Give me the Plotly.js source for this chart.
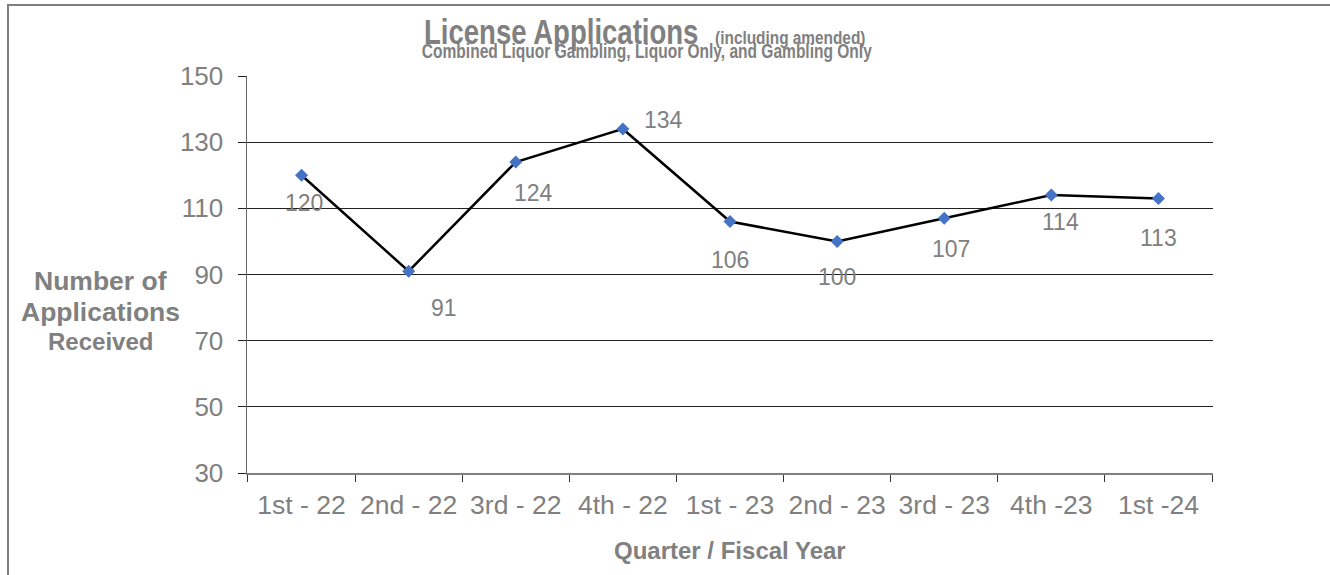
<!DOCTYPE html>
<html>
<head>
<meta charset="utf-8">
<script src="https://cdn.plot.ly/plotly-3.0.1.min.js"></script>
<style>
  html, body { margin: 0; padding: 0; background: #fff; overflow: hidden; }
  #chart { position: absolute; left: 0; top: 0; width: 1330px; height: 575px; }
  #frame { position: absolute; left: 7px; top: 4px; width: 1340px; height: 600px;
           border-left: 2px solid #7f7f7f; border-top: 2px solid #7f7f7f; pointer-events: none; }
</style>
</head>
<body>
<div id="chart"></div>
<div id="frame"></div>
<script>
// ---- data ----
const quarters = ["1st - 22", "2nd - 22", "3rd - 22", "4th - 22", "1st - 23", "2nd - 23", "3rd - 23", "4th -23", "1st -24"];
const applications = [120, 91, 124, 134, 106, 100, 107, 114, 113];
const yTicks = [30, 50, 70, 90, 110, 130, 150];
const yTitleLines = ["Number of", "Applications", "Received"];

// ---- label placement (pixel offsets of each value label from its point) ----
const labelDx = [2, 35, 18, 41, 0, 0, 7, 9, 0];
const labelDy = [28, 37, 31, -9, 38, 36, 31, 27, 40];

const W = 1330, H = 575;
const L = 247, R = 1213, T = 76, B = 473;
const px2x = p => (p - L) / (R - L);
const px2y = p => (B - p) / (B - T);

const gray = '#808080';
const sans = '"Liberation Sans", Arial, sans-serif';

const trace = {
  type: 'scatter',
  mode: 'lines+markers',
  x: quarters,
  y: applications,
  line: { color: '#000000', width: 2.5 },
  marker: { symbol: 'diamond', size: 10, color: '#4472C4' },
  hoverinfo: 'x+y',
  cliponaxis: false
};

const annotations = [];
applications.forEach((v, i) => {
  annotations.push({
    x: quarters[i], y: v, xref: 'x', yref: 'y',
    text: String(v), showarrow: false,
    xanchor: 'center', yanchor: 'middle',
    xshift: labelDx[i], yshift: -labelDy[i],
    font: { family: sans, size: 23, color: gray }
  });
});

// title pieces (narrow look obtained by horizontal scaling after render)
const narrowScale = {};
narrowScale[annotations.length] = { sx: 0.765, origin: 'left center' };
annotations.push({
  xref: 'paper', yref: 'paper', x: px2x(422), y: px2y(31),
  xanchor: 'left', yanchor: 'middle', showarrow: false,
  text: '<b>License Applications</b>',
  font: { family: sans, size: 36, color: gray }
});
narrowScale[annotations.length] = { sx: 0.81, origin: 'left center' };
annotations.push({
  xref: 'paper', yref: 'paper', x: px2x(713), y: px2y(38),
  xanchor: 'left', yanchor: 'middle', showarrow: false,
  text: '<b>(including amended)</b>',
  font: { family: sans, size: 19, color: gray }
});
narrowScale[annotations.length] = { sx: 0.777, origin: 'center center' };
annotations.push({
  xref: 'paper', yref: 'paper', x: px2x(647), y: px2y(51),
  xanchor: 'center', yanchor: 'middle', showarrow: false,
  text: '<b>Combined Liquor Gambling, Liquor Only, and Gambling Only</b>',
  font: { family: sans, size: 20, color: gray }
});

// y-axis title, one annotation per line (tight line spacing)
const yTitleCenters = [281, 312, 341];
const yTitleSizes = [26.5, 26.5, 24];
yTitleLines.forEach((s, i) => {
  annotations.push({
    xref: 'paper', yref: 'paper', x: px2x(100), y: px2y(yTitleCenters[i]),
    xanchor: 'center', yanchor: 'middle', showarrow: false,
    text: '<b>' + s + '</b>',
    font: { family: sans, size: yTitleSizes[i], color: gray }
  });
});
annotations.push({
  xref: 'paper', yref: 'paper', x: px2x(730), y: px2y(550),
  xanchor: 'center', yanchor: 'middle', showarrow: false,
  text: '<b>Quarter / Fiscal Year</b>',
  font: { family: sans, size: 24, color: gray }
});

const layout = {
  width: W, height: H,
  margin: { l: L, r: W - R, t: T, b: H - B, pad: 0 },
  paper_bgcolor: '#ffffff',
  plot_bgcolor: '#ffffff',
  showlegend: false,
  xaxis: {
    type: 'category',
    tickson: 'boundaries',
    tickangle: 0,
    ticks: 'outside', ticklen: 7, tickwidth: 1, tickcolor: '#333333',
    showgrid: false,
    showline: true, linecolor: gray, linewidth: 2,
    tickfont: { family: sans, size: 26.5, color: gray },
    ticklabelstandoff: 7,
    fixedrange: true
  },
  yaxis: {
    range: [30, 150],
    tickvals: yTicks,
    ticktext: yTicks.map(String),
    ticks: 'outside', ticklen: 8, tickwidth: 1, tickcolor: '#222222',
    showgrid: true, gridcolor: '#222222', gridwidth: 1,
    zeroline: false,
    showline: true, linecolor: '#666666', linewidth: 1.5,
    tickfont: { family: sans, size: 26, color: gray },
    ticklabelstandoff: 9,
    fixedrange: true
  },
  annotations: annotations
};

Plotly.newPlot('chart', [trace], layout, { displayModeBar: false, staticPlot: true }).then(gd => {
  Object.keys(narrowScale).forEach(idx => {
    const cfg = narrowScale[idx];
    const t = gd.querySelector('.annotation[data-index="' + idx + '"] .annotation-text');
    if (t) {
      t.style.transformBox = 'fill-box';
      t.style.transformOrigin = cfg.origin;
      t.style.transform = 'scaleX(' + cfg.sx + ')';
    }
  });
});
</script>
</body>
</html>
